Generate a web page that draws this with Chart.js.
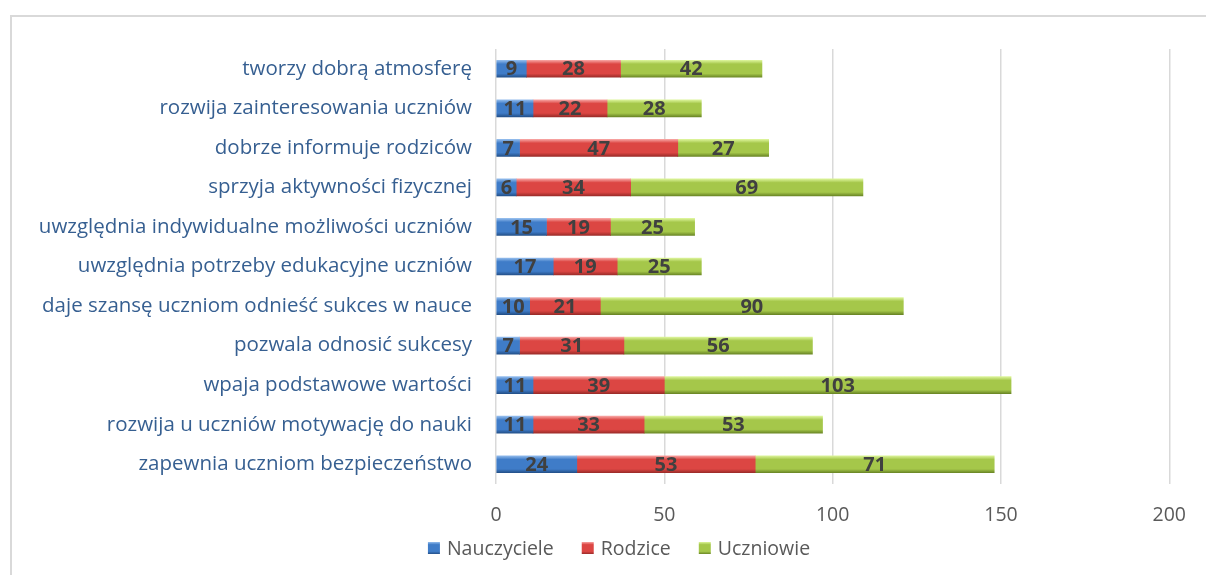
<!DOCTYPE html>
<html>
<head>
<meta charset="utf-8">
<script src="https://cdn.jsdelivr.net/npm/chart.js@4"></script>
<style>
  html, body { margin: 0; padding: 0; background: #fff; }
  #wrap { position: relative; width: 1206px; height: 575px; }
  #frame { position: absolute; left: 10px; top: 15px; right: 0; bottom: 0;
           border-left: 2px solid #d9d9d9; border-top: 2px solid #d9d9d9; }
  canvas { position: absolute; left: 0; top: 0; }
</style>
</head>
<body>
<div id="wrap">
  <div id="frame"></div>
  <canvas id="myChart" width="1206" height="575"></canvas>
</div>
<script>
const categories = [
  'tworzy dobrą atmosferę',
  'rozwija zainteresowania uczniów',
  'dobrze informuje rodziców',
  'sprzyja aktywności fizycznej',
  'uwzględnia indywidualne możliwości uczniów',
  'uwzględnia potrzeby edukacyjne uczniów',
  'daje szansę uczniom odnieść sukces w nauce',
  'pozwala odnosić sukcesy',
  'wpaja podstawowe wartości',
  'rozwija u uczniów motywację do nauki',
  'zapewnia uczniom bezpieczeństwo',
];
const nauczyciele = [9, 11, 7, 6, 15, 17, 10, 7, 11, 11, 24];
const rodzice = [28, 22, 47, 34, 19, 19, 21, 31, 39, 33, 53];
const uczniowie = [42, 28, 27, 69, 25, 25, 90, 56, 103, 53, 71];
const xTicks = [0, 50, 100, 150, 200];

const FONT = '"Open Sans", "Noto Sans", sans-serif';

// light / mid / dark for the bevel look
const shades = {
  blue: ['#93bcec', '#3f7cc8', '#24518a'],
  red: ['#f7a3a1', '#dc4643', '#9c2c29'],
  green: ['#dcf49a', '#a5c74a', '#6b8726'],
};

const bevel = function(c, y0, y1, s) {
  const g = c.createLinearGradient(0, y0, 0, y1);
  g.addColorStop(0, s[0]);
  g.addColorStop(0.22, s[1]);
  g.addColorStop(0.78, s[1]);
  g.addColorStop(1, s[2]);
  return g;
};

const barFill = function(s) {
  return function(context) {
    const chart = context.chart;
    const y = chart.scales && chart.scales.y;
    if (!y || context.dataIndex === undefined) return s[1];
    const yc = y.getPixelForValue(context.dataIndex);
    if (!isFinite(yc)) return s[1];
    return bevel(chart.ctx, yc - 8.5, yc + 8.5, s);
  };
};

const series = [
  { label: 'Nauczyciele', data: nauczyciele, s: shades.blue },
  { label: 'Rodzice', data: rodzice, s: shades.red },
  { label: 'Uczniowie', data: uczniowie, s: shades.green },
];

const valueLabels = {
  id: 'valueLabels',
  afterDatasetsDraw(chart) {
    const c = chart.ctx;
    c.save();
    c.font = 'bold 20px ' + FONT;
    c.fillStyle = '#404040';
    c.textAlign = 'center';
    c.textBaseline = 'middle';
    chart.data.datasets.forEach((ds, i) => {
      chart.getDatasetMeta(i).data.forEach((bar, j) => {
        const p = bar.getCenterPoint();
        c.fillText(String(ds.data[j]), p.x, p.y + 1);
      });
    });
    c.restore();
  }
};

const bottomLegend = {
  id: 'bottomLegend',
  afterDraw(chart) {
    const c = chart.ctx;
    c.save();
    c.font = '19.5px ' + FONT;
    c.textBaseline = 'middle';
    const box = 12, gap = 7, between = 28, yMid = 548;
    let total = 0;
    series.forEach((s, i) => {
      total += box + gap + c.measureText(s.label).width + (i < series.length - 1 ? between : 0);
    });
    let x = 619 - total / 2;
    series.forEach((s) => {
      c.fillStyle = bevel(c, yMid - 6, yMid + 6, s.s);
      c.fillRect(x, yMid - 6, box, box);
      x += box + gap;
      c.fillStyle = '#595959';
      c.fillText(s.label, x, yMid + 1);
      x += c.measureText(s.label).width + between;
    });
    c.restore();
  }
};

const data = {
  labels: categories,
  datasets: series.map((s) => ({
    label: s.label,
    data: s.data,
    backgroundColor: barFill(s.s),
    borderWidth: 0,
    barThickness: 17,
  }))
};

const config = {
  type: 'bar',
  data,
  options: {
    indexAxis: 'y',
    responsive: false,
    animation: false,
    layout: { padding: { top: 49, right: 30, bottom: 31, left: 0 } },
    plugins: {
      legend: { display: false },
      tooltip: { enabled: false },
    },
    scales: {
      x: {
        stacked: true,
        min: 0,
        max: 200,
        afterBuildTicks: (scale) => { scale.ticks = xTicks.map((v) => ({ value: v })); },
        afterFit: (scale) => { scale.height = 60; },
        grid: { color: '#d9d9d9', lineWidth: 1.5, drawTicks: false },
        border: { display: false },
        ticks: { color: '#595959', font: { family: FONT, size: 19.5 }, padding: 20 },
      },
      y: {
        stacked: true,
        afterFit: (scale) => { scale.width = 496; },
        grid: { display: false },
        border: { display: false },
        ticks: { color: '#365f91', font: { family: FONT, size: 20.5 }, padding: 16 },
      },
    },
  },
  plugins: [valueLabels, bottomLegend],
};

const myChart = new Chart(document.getElementById('myChart'), config);
</script>
</body>
</html>
